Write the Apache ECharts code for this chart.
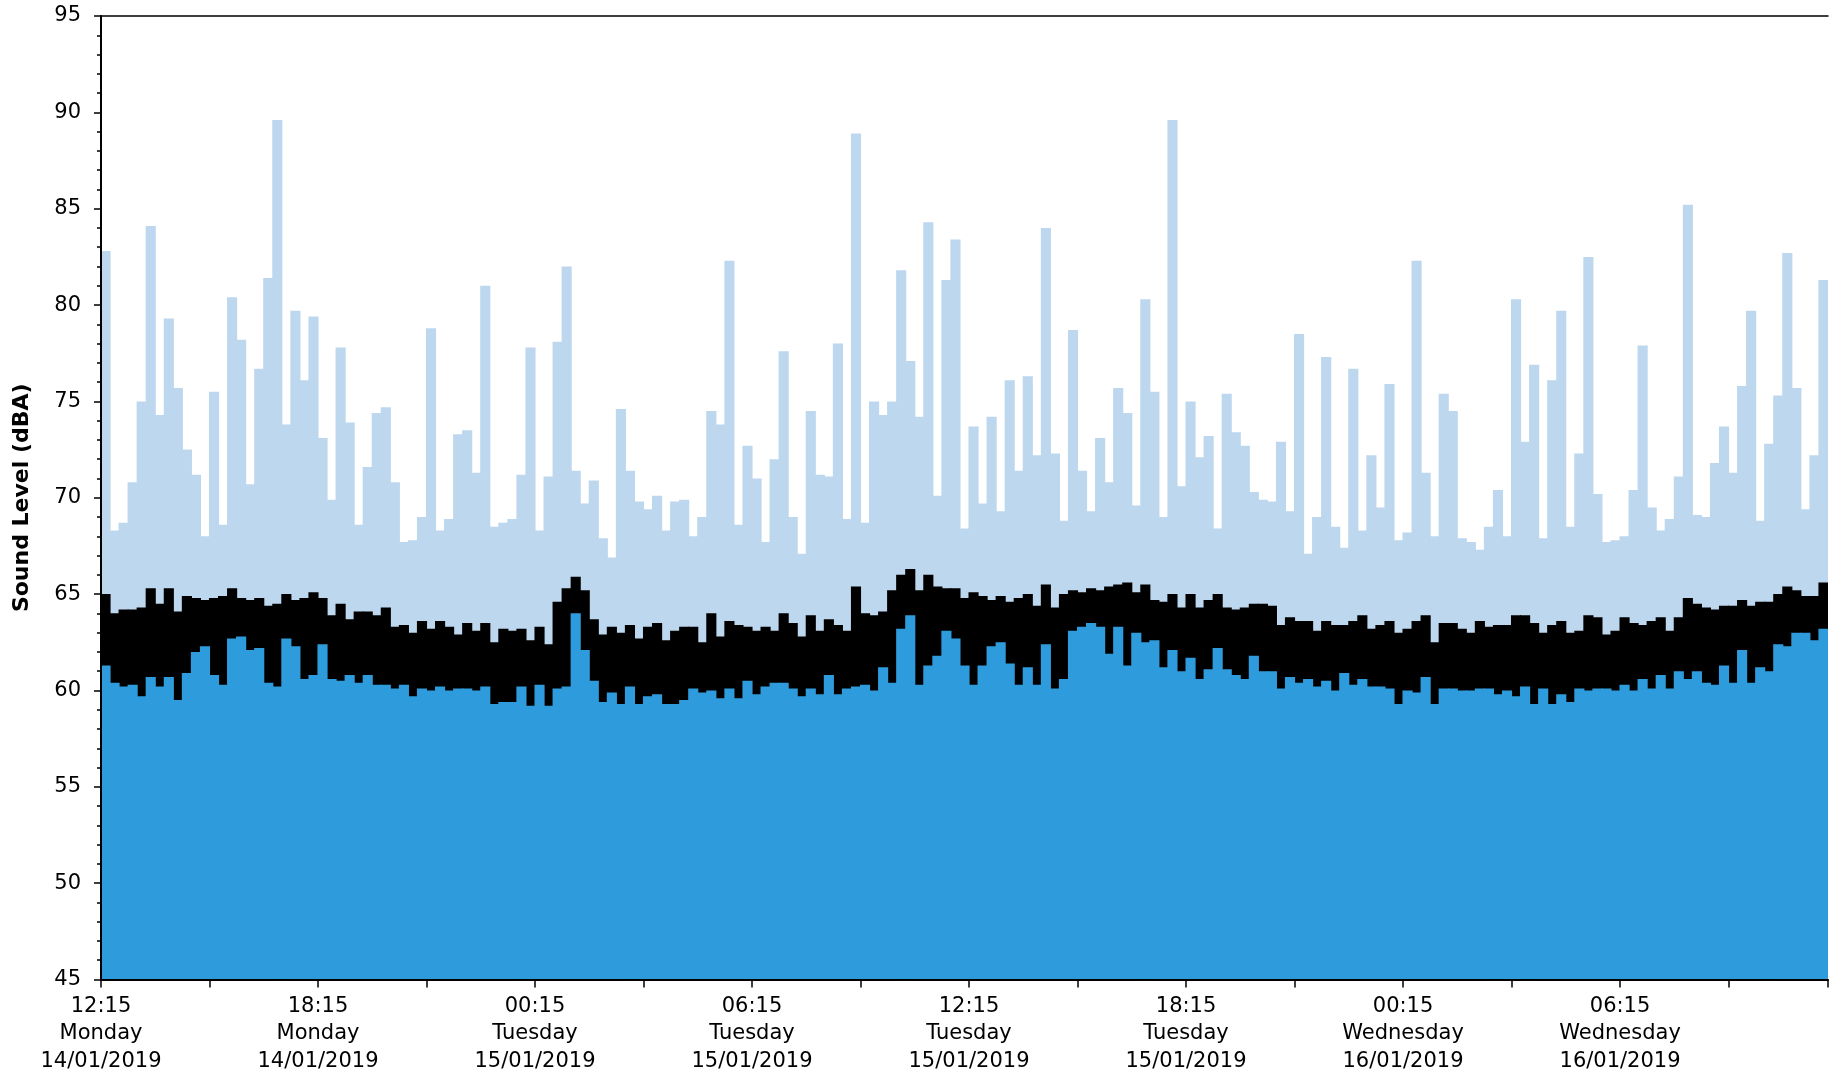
<!DOCTYPE html>
<html><head><meta charset="utf-8">
<script src="https://cdn.jsdelivr.net/npm/echarts@6/dist/echarts.min.js"></script>
<style>html,body{margin:0;padding:0;background:#fff}#c{width:1832px;height:1075px}</style>
</head><body><div id="c"></div>
<script>
// Lmax (light blue), Leq (black), L90 (blue) - 15 minute intervals from 12:15 Monday 14/01/2019
const lmax = [
 82.8, 68.3, 68.7, 70.8, 75.0, 84.1, 74.3, 79.3, 75.7, 72.5,
 71.2, 68.0, 75.5, 68.6, 80.4, 78.2, 70.7, 76.7, 81.4, 89.6,
 73.8, 79.7, 76.1, 79.4, 73.1, 69.9, 77.8, 73.9, 68.6, 71.6,
 74.4, 74.7, 70.8, 67.7, 67.8, 69.0, 78.8, 68.3, 68.9, 73.3,
 73.5, 71.3, 81.0, 68.5, 68.7, 68.9, 71.2, 77.8, 68.3, 71.1,
 78.1, 82.0, 71.4, 69.7, 70.9, 67.9, 66.9, 74.6, 71.4, 69.8,
 69.4, 70.1, 68.3, 69.8, 69.9, 68.0, 69.0, 74.5, 73.8, 82.3,
 68.6, 72.7, 71.0, 67.7, 72.0, 77.6, 69.0, 67.1, 74.5, 71.2,
 71.1, 78.0, 68.9, 88.9, 68.7, 75.0, 74.3, 75.0, 81.8, 77.1,
 74.2, 84.3, 70.1, 81.3, 83.4, 68.4, 73.7, 69.7, 74.2, 69.3,
 76.1, 71.4, 76.3, 72.2, 84.0, 72.3, 68.8, 78.7, 71.4, 69.3,
 73.1, 70.8, 75.7, 74.4, 69.6, 80.3, 75.5, 69.0, 89.6, 70.6,
 75.0, 72.1, 73.2, 68.4, 75.4, 73.4, 72.7, 70.3, 69.9, 69.8,
 72.9, 69.3, 78.5, 67.1, 69.0, 77.3, 68.5, 67.4, 76.7, 68.3,
 72.2, 69.5, 75.9, 67.8, 68.2, 82.3, 71.3, 68.0, 75.4, 74.5,
 67.9, 67.7, 67.3, 68.5, 70.4, 68.0, 80.3, 72.9, 76.9, 67.9,
 76.1, 79.7, 68.5, 72.3, 82.5, 70.2, 67.7, 67.8, 68.0, 70.4,
 77.9, 69.5, 68.3, 68.9, 71.1, 85.2, 69.1, 69.0, 71.8, 73.7,
 71.3, 75.8, 79.7, 68.8, 72.8, 75.3, 82.7, 75.7, 69.4, 72.2,
 81.3
];
const leq = [
 65.0, 64.0, 64.2, 64.2, 64.3, 65.3, 64.5, 65.3, 64.1, 64.9,
 64.8, 64.7, 64.8, 64.9, 65.3, 64.8, 64.7, 64.8, 64.4, 64.5,
 65.0, 64.7, 64.8, 65.1, 64.8, 63.9, 64.5, 63.7, 64.1, 64.1,
 63.9, 64.3, 63.3, 63.4, 63.0, 63.6, 63.2, 63.6, 63.3, 62.9,
 63.5, 63.1, 63.5, 62.5, 63.2, 63.1, 63.2, 62.6, 63.3, 62.4,
 64.6, 65.3, 65.9, 65.2, 63.7, 62.9, 63.3, 63.0, 63.4, 62.7,
 63.3, 63.5, 62.6, 63.1, 63.3, 63.3, 62.5, 64.0, 62.8, 63.6,
 63.4, 63.3, 63.1, 63.3, 63.1, 64.0, 63.5, 62.8, 63.9, 63.1,
 63.7, 63.4, 63.1, 65.4, 64.0, 63.9, 64.1, 65.2, 66.0, 66.3,
 65.2, 66.0, 65.4, 65.3, 65.3, 64.8, 65.1, 64.9, 64.7, 64.9,
 64.6, 64.8, 65.0, 64.4, 65.5, 64.3, 65.0, 65.2, 65.1, 65.3,
 65.2, 65.4, 65.5, 65.6, 65.1, 65.5, 64.7, 64.6, 65.0, 64.3,
 65.0, 64.3, 64.7, 65.0, 64.3, 64.2, 64.3, 64.5, 64.5, 64.4,
 63.4, 63.8, 63.6, 63.6, 63.1, 63.6, 63.4, 63.4, 63.6, 63.9,
 63.2, 63.4, 63.6, 63.0, 63.2, 63.6, 63.9, 62.5, 63.5, 63.5,
 63.2, 63.0, 63.6, 63.3, 63.4, 63.4, 63.9, 63.9, 63.5, 63.0,
 63.4, 63.6, 63.0, 63.1, 63.9, 63.8, 62.9, 63.1, 63.8, 63.5,
 63.4, 63.6, 63.8, 63.1, 63.8, 64.8, 64.5, 64.3, 64.2, 64.4,
 64.4, 64.7, 64.4, 64.6, 64.6, 65.0, 65.4, 65.2, 64.9, 64.9,
 65.6
];
const l90 = [
 61.3, 60.4, 60.2, 60.3, 59.7, 60.7, 60.2, 60.7, 59.5, 60.9,
 62.0, 62.3, 60.8, 60.3, 62.7, 62.8, 62.1, 62.2, 60.4, 60.2,
 62.7, 62.3, 60.6, 60.8, 62.4, 60.6, 60.5, 60.8, 60.4, 60.8,
 60.3, 60.3, 60.1, 60.3, 59.7, 60.1, 60.0, 60.2, 60.0, 60.1,
 60.1, 60.0, 60.2, 59.3, 59.4, 59.4, 60.2, 59.2, 60.3, 59.2,
 60.1, 60.2, 64.0, 62.1, 60.5, 59.4, 59.9, 59.3, 60.2, 59.3,
 59.7, 59.8, 59.3, 59.3, 59.5, 60.1, 59.9, 60.0, 59.6, 60.1,
 59.6, 60.5, 59.8, 60.2, 60.4, 60.4, 60.1, 59.7, 60.1, 59.8,
 60.8, 59.8, 60.1, 60.2, 60.3, 60.0, 61.2, 60.4, 63.2, 63.9,
 60.3, 61.3, 61.8, 63.1, 62.7, 61.3, 60.3, 61.3, 62.3, 62.5,
 61.4, 60.3, 61.2, 60.3, 62.4, 60.1, 60.6, 63.1, 63.3, 63.5,
 63.3, 61.9, 63.3, 61.3, 63.0, 62.5, 62.6, 61.2, 62.1, 61.0,
 61.7, 60.6, 61.1, 62.2, 61.1, 60.8, 60.6, 61.8, 61.0, 61.0,
 60.1, 60.7, 60.4, 60.6, 60.2, 60.5, 60.0, 60.9, 60.3, 60.6,
 60.2, 60.2, 60.1, 59.3, 60.0, 59.9, 60.7, 59.3, 60.1, 60.1,
 60.0, 60.0, 60.1, 60.1, 59.8, 60.0, 59.7, 60.2, 59.3, 60.1,
 59.3, 59.8, 59.4, 60.1, 60.0, 60.1, 60.1, 60.0, 60.3, 60.0,
 60.6, 60.1, 60.8, 60.1, 61.0, 60.6, 61.0, 60.4, 60.3, 61.3,
 60.4, 62.1, 60.4, 61.2, 61.0, 62.4, 62.3, 63.0, 63.0, 62.6,
 63.2
];
const tickTimes = ['12:15', '18:15', '00:15', '06:15', '12:15', '18:15', '00:15', '06:15'];
const tickDays  = ['Monday', 'Monday', 'Tuesday', 'Tuesday', 'Tuesday', 'Tuesday', 'Wednesday', 'Wednesday'];
const tickDates = ['14/01/2019', '14/01/2019', '15/01/2019', '15/01/2019', '15/01/2019', '15/01/2019', '16/01/2019', '16/01/2019'];

const categories = [];
for (let i = 0; i < lmax.length; i++) {
  const m = 12 * 60 + 15 + 15 * i;
  const h = Math.floor(m / 60) % 24, mm = m % 60;
  categories.push(String(h).padStart(2, '0') + ':' + String(mm).padStart(2, '0'));
}
const N = categories.length;
const FONT = 'DejaVu Sans';
const barSeries = function (name, data, color) {
  return {type: 'bar', name: name, data: data, xAxisIndex: 0, barWidth: '112%', barGap: '-100%', barCategoryGap: '0%',
    itemStyle: {color: color, borderWidth: 0}, silent: true};
};
const chart = echarts.init(document.getElementById('c'), null, {renderer: 'canvas'});
chart.setOption({
  animation: false,
  backgroundColor: '#ffffff',
  grid: {left: 101, right: 4, top: 16, bottom: 94, containLabel: false},
  xAxis: [
    {type: 'category', data: categories, position: 'bottom', boundaryGap: true,
     axisLine: {show: true, lineStyle: {color: '#000', width: 2}},
     axisTick: {show: true, interval: function (i) { return i % 12 === 0; }, length: 8, lineStyle: {color: '#000', width: 1.5}},
     axisLabel: {show: false}, splitLine: {show: false}, z: 5},
    {type: 'value', min: 0, max: N, interval: 24, position: 'bottom',
     axisLine: {show: false}, axisTick: {show: false}, splitLine: {show: false},
     axisLabel: {margin: 13, fontFamily: FONT, fontSize: 21, lineHeight: 27.5, color: '#000',
       formatter: function (v) {
         const k = v / 24;
         if (Number.isInteger(k) && k < tickTimes.length) return tickTimes[k] + '\n' + tickDays[k] + '\n' + tickDates[k];
         return '';
       }}},
    {type: 'value', min: 0, max: N, position: 'top',
     axisLine: {show: true, lineStyle: {color: '#000', width: 1.5}},
     axisTick: {show: false}, axisLabel: {show: false}, splitLine: {show: false}}
  ],
  yAxis: {
    type: 'value', min: 45, max: 95, interval: 5, z: 5,
    name: 'Sound Level (dBA)', nameLocation: 'middle', nameGap: 68,
    nameTextStyle: {fontFamily: FONT, fontWeight: 'bold', fontSize: 22, color: '#000'},
    axisLine: {show: true, lineStyle: {color: '#000', width: 2}},
    axisTick: {show: true, length: 7, lineStyle: {color: '#000', width: 1.5}},
    minorTick: {show: true, splitNumber: 5, length: 4, lineStyle: {color: '#000', width: 1.5}},
    splitLine: {show: false},
    axisLabel: {margin: 20, fontFamily: FONT, fontSize: 21, color: '#000'}
  },
  series: [
    barSeries('LAmax', lmax, '#BDD7EE'),
    barSeries('LAeq', leq, '#000000'),
    barSeries('LA90', l90, '#2E9CDC')
  ]
});
</script>
</body></html>
